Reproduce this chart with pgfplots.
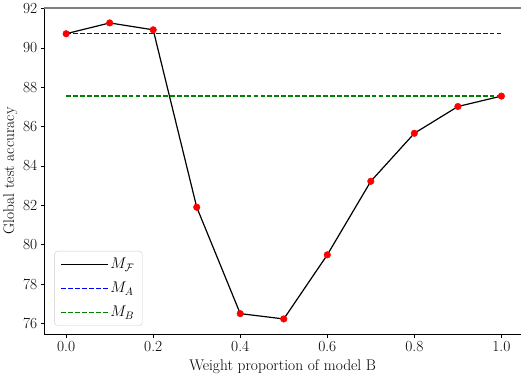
\documentclass[border=0pt]{standalone}
\usepackage{fix-cm}
\usepackage{fontspec}
\usepackage{pgfplots}
\pgfplotsset{compat=1.18}
\definecolor{mblue}{rgb}{0,0,1}
\definecolor{mgreen}{rgb}{0,0.5,0}
\definecolor{mred}{rgb}{1,0,0}
\definecolor{lgray}{rgb}{0.8,0.8,0.8}
\begin{document}
\begin{tikzpicture}
\pgfplotstableread{
x y
0.0 90.72
0.1 91.27
0.2 90.92
0.3 81.90
0.4 76.49
0.5 76.22
0.6 79.48
0.7 83.22
0.8 85.66
0.9 87.02
1.0 87.55
}\fed
\begin{axis}[
  name=ax,
  scale only axis,
  width=473.7bp, height=324.5bp,
  xmin=-0.05, xmax=1.045,
  ymin=75.45, ymax=92.05,
  axis x line*=bottom, axis y line*=left,
  axis line style={black, line width=1bp},
  font=\fontsize{15.4}{18}\selectfont,
  /pgf/number format/assume math mode=true,
  xtick={0,0.2,0.4,0.6,0.8,1.0},
  ytick={76,78,80,82,84,86,88,90,92},
  xticklabel style={/pgf/number format/.cd, fixed, fixed zerofill, precision=1},
  tick align=outside,
  major tick length=3.5bp,
  tick style={black, line width=0.8bp},
  xlabel={Weight proportion of model B},
  ylabel={Global test accuracy},
  xlabel style={at={(ticklabel cs:0.5)}, anchor=base, yshift=-15bp},
  ylabel style={yshift=-1bp},
  legend style={at={(0,0)}, anchor=south west, xshift=10bp, yshift=8.3bp,
    draw=lgray, fill=white,
    rounded corners=3bp, inner xsep=6bp, inner ysep=5bp,
    font=\fontsize{15.4}{18}\selectfont, row sep=8bp},
  legend cell align=left,
  legend image code/.code={\draw[#1] (0bp,0bp) -- (34.7bp,0bp); \path (0bp,0bp) -- (46bp,0bp);},
]
\addplot[draw=black, mark=none, solid, line width=1.2bp] table[x=x,y=y]{\fed};
\addlegendentry{$M_{\mathcal{F}}$}
\addplot[draw=mblue, mark=none, dash pattern=on 4.8bp off 2.1bp, line width=1.3bp] table {
0 90.72
1 90.72
};
\addlegendentry{$M_A$}
\addplot[draw=mgreen, mark=none, dash pattern=on 4.8bp off 2.1bp, line width=1.3bp] table {
0 87.55
1 87.55
};
\addlegendentry{$M_B$}
\addplot[only marks, mark=*, mark size=3.3bp, draw=mred, fill=mred, forget plot] table[x=x,y=y]{\fed};
\end{axis}
\draw[black!50, line width=2bp] (ax.north west) -- (ax.north east);
\end{tikzpicture}
\end{document}
